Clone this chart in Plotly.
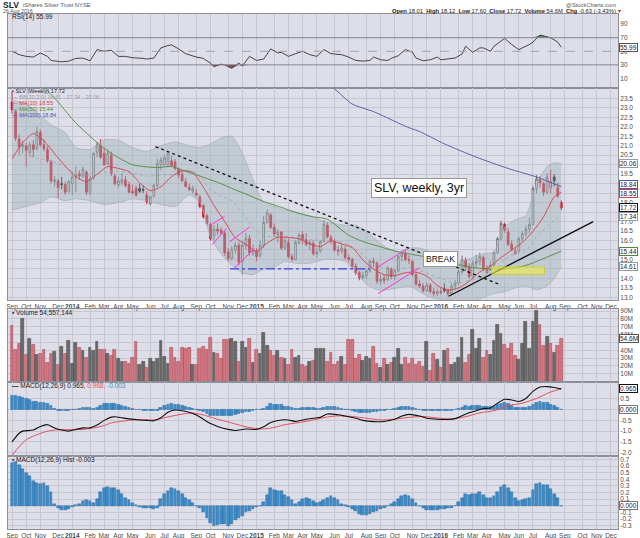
"""SLV weekly 3yr candlestick chart with RSI, volume and MACD panels, StockCharts style."""

import pandas as pd
import plotly.graph_objects as go
from plotly.subplots import make_subplots


START = pd.Timestamp("2013-09-06")
AXIS_START = pd.Timestamp("2013-08-29")
AXIS_END = pd.Timestamp("2016-12-16")

# weekly bars, Sep 6 2013 .. Aug 26 2016
OPEN = [
    23.30, 22.80, 21.35, 20.95, 21.00, 20.65, 21.05, 20.85, 21.70, 21.05,
    20.80, 20.15, 19.10, 19.15, 19.00, 18.95, 18.60, 19.00, 19.35, 19.50,
    19.40, 19.60, 18.55, 19.30, 20.65, 21.00, 20.60, 20.05, 20.50, 19.40,
    18.95, 19.05, 19.20, 18.95, 18.60, 18.75, 18.75, 18.70, 18.40, 17.95,
    18.35, 18.90, 20.00, 20.00, 20.00, 20.20, 20.15, 19.75, 19.50, 19.10,
    18.80, 18.60, 18.50, 18.30, 17.85, 17.30, 16.85, 16.25, 16.60, 16.55,
    16.40, 15.40, 15.05, 15.50, 15.75, 14.90, 15.75, 16.10, 15.35, 15.45,
    15.20, 15.75, 16.95, 17.35, 16.70, 16.30, 16.45, 15.60, 15.90, 15.15,
    15.00, 15.90, 16.30, 16.05, 15.80, 15.85, 15.30, 15.45, 15.95, 16.80,
    16.15, 15.95, 15.50, 15.45, 15.55, 15.10, 15.00, 14.65, 14.30, 14.05,
    14.15, 14.40, 14.90, 14.80, 13.85, 14.00, 13.95, 14.50, 14.10, 14.40,
    15.15, 15.30, 15.00, 14.90, 14.20, 13.70, 13.60, 13.35, 13.65, 13.30,
    13.20, 13.30, 13.45, 13.40, 13.20, 13.60, 13.75, 14.35, 14.95, 14.60,
    14.10, 14.80, 14.90, 15.10, 14.30, 14.45, 14.70, 15.35, 16.10, 16.85,
    16.45, 15.80, 15.30, 15.45, 16.10, 16.35, 16.60, 16.85, 18.75, 19.20,
    19.00, 18.55, 18.80, 19.35, 18.80, 18.01,
]
HIGH = [
    23.85, 22.90, 21.60, 21.25, 21.15, 21.20, 21.30, 22.00, 21.85, 21.35,
    20.95, 20.25, 19.40, 19.25, 19.35, 19.10, 19.20, 19.65, 19.90, 19.70,
    19.90, 19.70, 19.40, 20.65, 21.20, 21.35, 20.90, 20.80, 20.70, 19.55,
    19.35, 19.55, 19.40, 19.10, 18.95, 18.90, 19.00, 18.90, 18.60, 18.35,
    19.00, 20.30, 20.40, 20.50, 20.70, 20.45, 20.30, 19.85, 19.70, 19.30,
    19.00, 18.90, 18.70, 18.40, 17.90, 17.40, 16.95, 16.80, 16.90, 16.70,
    16.50, 15.60, 15.70, 15.90, 15.90, 16.00, 16.40, 16.30, 15.80, 15.60,
    16.00, 17.30, 17.65, 17.45, 16.90, 16.60, 16.50, 16.20, 16.10, 15.30,
    16.00, 16.40, 16.50, 16.40, 16.00, 16.00, 15.60, 16.00, 17.10, 16.95,
    16.30, 16.10, 15.70, 15.80, 15.70, 15.25, 15.10, 14.80, 14.40, 14.35,
    14.50, 15.00, 15.10, 14.90, 14.20, 14.20, 14.65, 14.60, 14.50, 15.25,
    15.40, 15.45, 15.20, 14.95, 14.30, 13.90, 13.75, 13.80, 13.75, 13.50,
    13.45, 13.50, 13.75, 13.45, 13.75, 13.90, 14.45, 15.20, 15.10, 14.80,
    14.95, 15.25, 15.35, 15.20, 14.70, 14.90, 15.45, 16.20, 17.05, 16.95,
    16.65, 16.00, 15.60, 16.20, 16.50, 16.80, 17.20, 18.90, 19.45, 19.40,
    19.10, 19.55, 19.75, 19.50, 19.05, 18.12,
]
LOW = [
    22.70, 21.25, 20.55, 20.60, 19.90, 20.45, 20.40, 20.75, 20.95, 20.70,
    20.10, 19.00, 18.85, 18.25, 18.70, 18.40, 18.50, 18.40, 18.55, 19.20,
    19.30, 18.40, 18.40, 19.20, 20.40, 20.30, 19.95, 19.95, 19.40, 18.90,
    18.80, 18.90, 18.80, 18.50, 18.45, 18.30, 18.50, 18.50, 17.90, 17.85,
    18.25, 18.80, 19.70, 19.90, 19.90, 19.90, 19.70, 19.30, 19.10, 18.80,
    18.60, 18.45, 18.30, 17.70, 17.15, 16.80, 16.00, 16.00, 16.30, 16.30,
    15.20, 14.90, 14.95, 15.30, 14.70, 14.20, 15.50, 15.20, 15.20, 14.90,
    15.10, 15.60, 16.90, 16.60, 16.20, 15.90, 15.50, 15.50, 15.05, 14.90,
    14.95, 15.80, 15.80, 15.70, 15.50, 15.20, 15.10, 15.35, 15.90, 16.10,
    15.80, 15.40, 15.20, 15.30, 15.00, 14.85, 14.50, 14.20, 13.90, 13.95,
    14.00, 14.30, 14.60, 13.70, 13.65, 13.70, 13.85, 13.95, 13.90, 14.30,
    14.90, 14.90, 14.75, 14.10, 13.60, 13.50, 13.25, 13.30, 13.20, 13.05,
    13.05, 13.15, 13.25, 13.05, 13.10, 13.40, 13.65, 14.20, 14.40, 14.00,
    14.05, 14.60, 14.70, 14.40, 14.25, 14.40, 14.60, 15.30, 16.00, 16.40,
    15.70, 15.45, 15.25, 15.40, 15.95, 16.20, 16.40, 16.80, 18.50, 18.80,
    18.35, 18.45, 18.50, 18.85, 18.25, 17.60,
]
CLOSE = [
    22.90, 21.40, 20.95, 21.05, 20.75, 21.05, 20.80, 21.75, 21.05, 20.85,
    20.20, 19.15, 19.20, 18.80, 18.95, 18.55, 19.10, 19.35, 19.45, 19.40,
    19.75, 18.55, 19.25, 20.60, 21.05, 20.40, 20.00, 20.60, 19.55, 19.00,
    19.15, 19.20, 18.90, 18.55, 18.50, 18.40, 18.60, 18.65, 18.05, 18.30,
    18.90, 20.05, 20.25, 20.35, 20.60, 19.95, 19.80, 19.45, 19.15, 18.85,
    18.70, 18.75, 18.40, 17.80, 17.25, 16.90, 16.10, 16.60, 16.50, 16.40,
    15.35, 15.05, 15.55, 15.75, 14.85, 15.75, 16.10, 15.35, 15.50, 15.15,
    15.75, 16.95, 17.45, 16.70, 16.35, 16.45, 15.60, 16.00, 15.15, 15.00,
    15.90, 16.30, 16.05, 15.80, 15.90, 15.30, 15.40, 15.95, 16.85, 16.20,
    16.00, 15.50, 15.45, 15.60, 15.10, 15.00, 14.65, 14.30, 14.05, 14.15,
    14.40, 14.90, 14.85, 13.85, 13.95, 13.90, 14.55, 14.10, 14.40, 15.15,
    15.30, 15.00, 14.95, 14.20, 13.70, 13.60, 13.35, 13.65, 13.30, 13.20,
    13.30, 13.25, 13.35, 13.20, 13.60, 13.75, 14.35, 14.95, 14.60, 14.10,
    14.80, 14.90, 15.15, 14.50, 14.45, 14.70, 15.35, 16.10, 16.90, 16.55,
    15.80, 15.55, 15.45, 16.10, 16.35, 16.60, 16.85, 18.75, 19.25, 19.05,
    18.55, 19.35, 19.10, 19.15, 18.35, 17.72,
]
VOLUME_M = [
    71, 41, 48, 80, 34, 55, 47, 34, 36, 41,
    24, 35, 38, 21, 45, 36, 52, 23, 50, 43,
    39, 31, 43, 39, 51, 41, 41, 35, 33, 41,
    29, 25, 26, 23, 31, 51, 22, 26, 18, 29,
    25, 29, 52, 32, 23, 43, 30, 26, 43, 42,
    43, 21, 21, 42, 44, 41, 56, 37, 36, 29,
    53, 53, 55, 51, 26, 51, 43, 55, 24, 41,
    35, 62, 46, 40, 33, 40, 31, 29, 21, 41,
    31, 33, 21, 19, 26, 27, 42, 42, 42, 26,
    37, 21, 26, 32, 22, 53, 54, 29, 34, 27,
    32, 29, 44, 23, 18, 29, 21, 24, 31, 42,
    22, 31, 23, 29, 21, 26, 19, 51, 14, 36,
    28, 18, 40, 42, 21, 24, 30, 56, 24, 34,
    66, 42, 55, 31, 39, 34, 52, 73, 61, 47,
    42, 48, 33, 28, 48, 77, 42, 77, 90, 72,
    46, 57, 48, 37, 46, 54.6,
]
MACD_HIST = [
    0.65, 0.66, 0.61, 0.55, 0.50, 0.45, 0.38, 0.35, 0.33, 0.34,
    0.30, 0.20, 0.03, -0.03, -0.06, -0.07, -0.05, -0.02, 0.01, 0.03,
    0.07, 0.08, 0.07, 0.04, 0.10, 0.20, 0.27, 0.29, 0.27, 0.27,
    0.23, 0.17, 0.12, 0.08, 0.04, 0.01, -0.02, -0.03, -0.04, -0.04,
    -0.05, -0.03, 0.10, 0.17, 0.22, 0.26, 0.25, 0.22, 0.18, 0.12,
    0.08, 0.04, 0.00, -0.04, -0.10, -0.18, -0.26, -0.30, -0.29, -0.27,
    -0.28, -0.30, -0.28, -0.22, -0.19, -0.15, -0.10, -0.08, -0.05, -0.02,
    -0.01, 0.06, 0.16, 0.26, 0.24, 0.22, 0.22, 0.16, 0.13, 0.08,
    0.03, 0.06, 0.10, 0.11, 0.10, 0.07, 0.04, 0.05, 0.08, 0.12,
    0.15, 0.12, 0.08, 0.03, 0.01, -0.02, -0.05, -0.08, -0.12, -0.14,
    -0.14, -0.12, -0.10, -0.08, -0.05, -0.03, -0.01, 0.02, 0.06, 0.10,
    0.14, 0.16, 0.15, 0.10, 0.04, -0.01, -0.04, -0.06, -0.07, -0.06,
    -0.06, -0.05, -0.05, -0.04, -0.03, 0.00, 0.05, 0.11, 0.17, 0.16,
    0.18, 0.18, 0.20, 0.16, 0.12, 0.12, 0.15, 0.21, 0.29, 0.31,
    0.27, 0.20, 0.11, 0.07, 0.09, 0.10, 0.12, 0.24, 0.33, 0.35,
    0.32, 0.31, 0.25, 0.18, 0.11, -0.003,
]

MACD_WEEK = [0, 2, 3, 6, 8, 10, 12, 14, 16, 18, 20, 22, 24, 26, 28, 29, 31, 33, 36, 38,
             40, 42, 44, 46, 48, 50, 52, 54, 56, 58, 61, 63, 66, 69, 71, 73, 76, 78, 80, 83,
             85, 87, 89, 92, 94, 97, 99, 102, 105, 108, 110, 112, 115, 117, 120, 123, 125,
             127, 129, 131, 133, 135, 137, 139, 141, 143, 145, 147, 149, 151, 153, 155]
MACD_VALUE = [-1.50, -1.10, -1.00, -0.95, -0.78, -0.70, -0.85, -0.95, -1.00, -0.92,
              -0.85, -0.85, -0.72, -0.50, -0.35, -0.33, -0.38, -0.43, -0.48, -0.50,
              -0.52, -0.38, -0.12, -0.02, -0.05, -0.12, -0.25, -0.45, -0.65, -0.78,
              -0.92, -0.97, -0.90, -0.92, -0.80, -0.60, -0.48, -0.48, -0.55, -0.45,
              -0.40, -0.36, -0.20, -0.24, -0.30, -0.40, -0.50, -0.56, -0.55, -0.45,
              -0.30, -0.22, -0.30, -0.40, -0.45, -0.46, -0.42, -0.28, -0.15, -0.05,
              0.05, 0.08, 0.30, 0.48, 0.45, 0.38, 0.52, 0.85, 1.05, 1.07, 1.03, 0.965]
SIGNAL_WEEK = [0, 4, 9, 12, 16, 20, 24, 26, 28, 32, 36, 40, 44, 48, 51, 54, 57, 62, 66, 70,
               73, 77, 81, 85, 89, 92, 96, 100, 104, 108, 112, 116, 120, 124, 128, 132, 136,
               140, 144, 148, 152, 155]
SIGNAL_VALUE = [-2.12, -1.40, -1.05, -0.95, -0.93, -0.92, -0.82, -0.74, -0.62, -0.52,
                -0.46, -0.48, -0.34, -0.21, -0.16, -0.25, -0.40, -0.62, -0.80, -0.90,
                -0.86, -0.70, -0.60, -0.48, -0.34, -0.29, -0.32, -0.40, -0.48, -0.44,
                -0.36, -0.32, -0.39, -0.43, -0.33, -0.15, -0.05, 0.18, 0.30, 0.52,
                0.82, 0.968]
RSI_WEEK = [0, 2, 4, 6, 8, 10, 11, 14, 16, 18, 20, 22, 24, 26, 28, 30, 32, 34, 37, 38,
            40, 42, 44, 45, 47, 49, 52, 54, 56, 57, 59, 60, 62, 64, 65, 67, 69, 71, 73, 75,
            76, 78, 80, 82, 84, 86, 88, 90, 93, 95, 97, 99, 101, 102, 104, 106, 107, 109,
            111, 113, 114, 116, 118, 120, 121, 123, 125, 127, 128, 130, 132, 133, 135,
            136, 139, 141, 143, 146, 147, 149, 151, 152, 154, 155]
RSI_VALUE = [50, 45, 42.5, 41.5, 47.5, 42.5, 36.5, 34.5, 35.5, 39.5,
             40, 36, 52.5, 50, 51.5, 42.5, 42.5, 40.5, 39.5, 38.5,
             40, 55, 58.5, 59.5, 53.5, 46.5, 41.5, 39.5, 32.5, 27.5,
             31, 30, 25, 32.5, 28.5, 42.5, 36.5, 38.5, 53.5, 47.5,
             48.5, 42.5, 46.5, 50, 45, 42.5, 52.5, 46.5, 45, 41.5,
             36.5, 35.5, 36.5, 41.5, 37.5, 36.5, 39.5, 43.5, 52.5, 48.5,
             40, 36, 37.5, 41.5, 37.5, 38.5, 40, 46, 57.5, 48.5,
             55, 55, 50, 57.5, 69, 60, 52.5, 60, 63.5, 74,
             71.5, 70, 63.5, 55.99]
MA10_WEEK = list(range(0, 154, 3)) + [155]
MA10_VALUE = [20.30, 21.16, 21.64, 21.26, 20.59, 19.93, 19.36, 19.11, 19.50, 19.90,
              19.80, 19.64, 19.05, 18.63, 18.83, 19.37, 19.68, 19.59, 18.81, 17.85,
              17.00, 16.15, 15.79, 15.44, 15.86, 16.18, 16.16, 16.09, 15.82, 15.68,
              15.98, 15.82, 15.63, 14.98, 14.50, 14.20, 14.15, 14.30, 14.33, 14.13,
              13.63, 13.39, 13.50, 13.85, 14.34, 14.65, 15.10, 15.50, 15.89, 16.49,
              17.25, 18.30, 18.55]
MA50_WEEK = [0, 6, 10, 13, 18, 22, 25, 28, 34, 41, 45, 49, 53, 59, 62, 66, 70, 76, 81, 85,
             89, 95, 99, 103, 109, 114, 118, 122, 126, 130, 134, 138, 142, 146, 150, 153, 155]
MA50_VALUE = [25.6, 24.6, 23.9, 23.3, 22.2, 21.5, 21.0, 20.6, 20.0, 19.85, 19.9, 19.65,
              19.4, 19.0, 18.75, 18.45, 18.13, 17.75, 17.43, 17.25, 17.12, 16.28, 15.95,
              15.72, 15.40, 15.23, 15.10, 14.95, 14.72, 14.58, 14.50, 14.50, 14.55, 14.75,
              15.05, 15.28, 15.44]
MA200_WEEK = [60, 75, 88, 91, 96, 102, 109, 112, 115, 122, 131, 140, 148, 155]
MA200_VALUE = [27.5, 26.0, 24.4, 24.0, 23.2, 22.8, 22.2, 21.95, 21.75, 21.1, 20.4, 19.8,
               19.35, 18.84]
BB_WEEK = [0, 4, 8, 11, 15, 18, 22, 26, 30, 34, 38, 42, 46, 50, 53, 56, 59, 62, 65, 68,
           71, 74, 77, 80, 84, 88, 91, 94, 97, 100, 103, 106, 109, 112, 115, 118, 121, 124,
           127, 130, 133, 136, 139, 142, 145, 148, 151, 153, 155]
BB_LOWER = [17.6, 17.8, 18.0, 18.3, 18.1, 18.2, 18.1, 17.9, 18.0, 18.2, 18.1, 17.9, 17.8,
            18.4, 18.0, 16.2, 15.3, 14.7, 14.3, 14.2, 14.5, 14.6, 14.9, 14.8, 14.8, 15.0,
            15.0, 14.9, 14.3, 13.7, 13.4, 13.4, 13.5, 13.6, 13.3, 13.0, 12.9, 12.9, 12.7,
            12.8, 13.0, 13.2, 13.3, 13.5, 13.6, 13.4, 13.6, 14.0, 14.61]
BB_MID = [20.5, 20.5, 20.3, 20.2, 19.9, 19.55, 19.45, 19.6, 19.65, 19.55, 19.4, 19.45,
          19.5, 19.7, 19.45, 18.65, 18.35, 18.1, 17.45, 16.7, 16.25, 16.2, 16.25, 16.15,
          16.05, 16.0, 15.95, 15.85, 15.55, 15.1, 14.7, 14.5, 14.45, 14.6, 14.45, 14.2,
          14.0, 13.8, 13.8, 13.95, 14.15, 14.3, 15.0, 15.3, 15.45, 16.2, 16.75, 17.05, 17.34]
BB_UPPER = [23.4, 23.2, 22.6, 22.1, 21.7, 20.9, 20.8, 21.3, 21.3, 20.9, 20.7, 21.0, 21.2,
            21.0, 20.9, 21.1, 21.4, 21.5, 20.6, 19.2, 18.0, 17.8, 17.6, 17.5, 17.3, 17.0,
            16.9, 16.8, 16.8, 16.5, 16.0, 15.6, 15.4, 15.6, 15.6, 15.4, 15.1, 14.7, 14.9,
            15.1, 15.3, 15.4, 16.7, 17.1, 17.3, 19.0, 19.9, 20.1, 20.06]

TICK_TEXT = ["Sep", "Oct", "Nov", "Dec",
             "<b>2014</b>", "Feb", "Mar", "Apr", "May", "Jun", "Jul", "Aug", "Sep", "Oct", "Nov", "Dec",
             "<b>2015</b>", "Feb", "Mar", "Apr", "May", "Jun", "Jul", "Aug", "Sep", "Oct", "Nov", "Dec",
             "<b>2016</b>", "Feb", "Mar", "Apr", "May", "Jun", "Jul", "Aug", "Sep", "Oct", "Nov", "Dec"]
PRICE_TICKS = [13.0, 13.5, 14.0, 14.5, 15.0, 15.5, 16.0, 16.5, 17.0, 17.5, 18.0, 18.5,
               19.0, 19.5, 20.0, 20.5, 21.0, 21.5, 22.0, 22.5, 23.0, 23.5]
VOLUME_TICKS = [10, 20, 30, 40, 50, 60, 70, 80, 90]
HIST_TICKS = [-0.3, -0.2, -0.1, 0.0, 0.1, 0.2, 0.3, 0.4, 0.5, 0.6, 0.7]

# hand-drawn markup on the chart: (week, price) endpoints
DOWN_TREND = [(40.5, 20.95), (138.0, 13.65)]
UP_TREND = [(123.2, 13.06), (164.0, 17.0)]
SUPPORT = [(61.5, 14.5), (101.0, 14.5)]
FLAG_LINES = [
    [(56.5, 16.85), (60.0, 17.29)], [(56.5, 15.79), (60.5, 16.64)],
    [(61.4, 15.93), (67.1, 16.72)], [(62.4, 14.49), (68.5, 15.58)],
    [(103.3, 14.61), (111.7, 15.58)], [(103.3, 13.20), (115.0, 14.56)],
]
ZONE = [(135.3, 14.21), (150.3, 14.61)]
TITLE_NOTE = (114.9, 18.76, "SLV, weekly, 3yr")
BREAK_NOTE = (121.0, 15.02, "BREAK")

FONT = "Liberation Sans, Arial, sans-serif"
INK = "#222222"
AXIS_INK = "#4a4a4a"
PANEL = "#dedee9"
GRID = "#c7c7d4"
BORDER = "#8e8e98"
RED = "#d0192b"
HOLLOW_LINE = "#6a6a6a"
HOLLOW_FILL = "#ececef"
VOL_RED = "#d47580"
VOL_RED_EDGE = "#a84652"
VOL_GREY = "#6b6b6b"
VOL_GREY_EDGE = "#474747"
HIST_BLUE = "#3d8ec8"
HIST_EDGE = "#23679f"
MA10_C = "#d9404c"
MA50_C = "#4f8a3a"
MA200_C = "#5252aa"
BB_FILL = "rgba(160,178,184,0.45)"
BB_EDGE = "#a3afb6"
BB_MID_C = "#9aa3ac"


def week(i):
    return START + pd.Timedelta(days=7 * i)


def wstr(i):
    return week(i).strftime("%Y-%m-%d %H:%M")


def build():
    n = len(CLOSE)
    dates = [week(i) for i in range(n)]
    prev = [OPEN[0]] + CLOSE[:-1]
    down = [CLOSE[i] < prev[i] for i in range(n)]

    fridays = pd.date_range(START, AXIS_END + pd.Timedelta(days=20), freq="7D")
    firsts = pd.Series(fridays).groupby([fridays.year, fridays.month]).first().tolist()
    tick_dates = firsts[:len(TICK_TEXT)]

    fig = make_subplots(rows=5, cols=1, shared_xaxes=True, vertical_spacing=0)

    # ---- RSI
    rsi_x = [week(i) for i in RSI_WEEK]
    fig.add_trace(go.Scatter(x=rsi_x, y=[70] * len(rsi_x), mode="lines", line=dict(width=0),
                             hoverinfo="skip"), row=1, col=1)
    fig.add_trace(go.Scatter(x=rsi_x, y=[max(v, 70) for v in RSI_VALUE], mode="lines",
                             line=dict(width=0), fill="tonexty", fillcolor="#5e8a5e",
                             hoverinfo="skip"), row=1, col=1)
    fig.add_trace(go.Scatter(x=rsi_x, y=[30] * len(rsi_x), mode="lines", line=dict(width=0),
                             hoverinfo="skip"), row=1, col=1)
    fig.add_trace(go.Scatter(x=rsi_x, y=[min(v, 30) for v in RSI_VALUE], mode="lines",
                             line=dict(width=0), fill="tonexty", fillcolor="#8e4a4a",
                             hoverinfo="skip"), row=1, col=1)
    fig.add_trace(go.Scatter(x=rsi_x, y=RSI_VALUE, mode="lines",
                             line=dict(color="#333333", width=0.9)), row=1, col=1)
    for lvl, dash, col in [(70, "solid", "#85858f"), (30, "solid", "#85858f"), (50, "dash", "#a2a2ad")]:
        fig.add_hline(y=lvl, line=dict(color=col, width=1, dash=dash), row=1, col=1)

    # ---- price panel
    bb_x = [week(i) for i in BB_WEEK]
    fig.add_trace(go.Scatter(x=bb_x, y=BB_LOWER, mode="lines", line=dict(color=BB_EDGE, width=0.7,
                             shape="spline", smoothing=0.6), hoverinfo="skip"), row=2, col=1)
    fig.add_trace(go.Scatter(x=bb_x, y=BB_UPPER, mode="lines", line=dict(color=BB_EDGE, width=0.7,
                             shape="spline", smoothing=0.6), fill="tonexty", fillcolor=BB_FILL,
                             hoverinfo="skip"), row=2, col=1)
    fig.add_trace(go.Scatter(x=bb_x, y=BB_MID, mode="lines", line=dict(color=BB_MID_C, width=0.8,
                             dash="dot", shape="spline", smoothing=0.6), hoverinfo="skip"), row=2, col=1)
    for wk, val, col in [(MA10_WEEK, MA10_VALUE, MA10_C), (MA50_WEEK, MA50_VALUE, MA50_C),
                         (MA200_WEEK, MA200_VALUE, MA200_C)]:
        fig.add_trace(go.Scatter(x=[week(i) for i in wk], y=val, mode="lines",
                                 line=dict(color=col, width=0.9, shape="spline", smoothing=0.7),
                                 hoverinfo="skip"), row=2, col=1)

    for is_red, inc_line, inc_fill, dec_line, dec_fill in [
        (False, HOLLOW_LINE, HOLLOW_FILL, "#111111", "#111111"),
        (True, RED, "#f2e4e6", RED, RED),
    ]:
        idx = [i for i in range(n) if down[i] == is_red]
        fig.add_trace(go.Candlestick(
            x=[dates[i] for i in idx],
            open=[OPEN[i] for i in idx], high=[HIGH[i] for i in idx],
            low=[LOW[i] for i in idx], close=[CLOSE[i] for i in idx],
            increasing=dict(line=dict(color=inc_line, width=0.9), fillcolor=inc_fill),
            decreasing=dict(line=dict(color=dec_line, width=0.9), fillcolor=dec_fill),
            whiskerwidth=0, hoverinfo="skip",
        ), row=2, col=1)

    # ---- volume
    fig.add_trace(go.Bar(
        x=dates, y=VOLUME_M, width=7 * 86400000 * 0.78,
        marker=dict(color=[VOL_RED if d else VOL_GREY for d in down],
                    line=dict(color=[VOL_RED_EDGE if d else VOL_GREY_EDGE for d in down], width=0.6)),
        hoverinfo="skip",
    ), row=3, col=1)

    # ---- MACD
    hist_marker = dict(color=HIST_BLUE, line=dict(color=HIST_EDGE, width=0.5))
    fig.add_trace(go.Bar(x=dates, y=MACD_HIST, width=7 * 86400000 * 0.8, marker=hist_marker,
                         hoverinfo="skip"), row=4, col=1)
    fig.add_trace(go.Scatter(x=[week(i) for i in SIGNAL_WEEK], y=SIGNAL_VALUE, mode="lines",
                             line=dict(color="#e2505e", width=1, shape="spline", smoothing=0.7),
                             hoverinfo="skip"), row=4, col=1)
    fig.add_trace(go.Scatter(x=[week(i) for i in MACD_WEEK], y=MACD_VALUE, mode="lines",
                             line=dict(color="#111111", width=1.1, shape="spline", smoothing=0.7),
                             hoverinfo="skip"), row=4, col=1)

    # ---- MACD histogram
    fig.add_trace(go.Bar(x=dates, y=MACD_HIST, width=7 * 86400000 * 0.8, marker=hist_marker,
                         hoverinfo="skip"), row=5, col=1)

    # boxed last values on the right axis (label, value, panel, border colour, nudge)
    boxes = [
        (f"{RSI_VALUE[-1]:.2f}", RSI_VALUE[-1], 1, "#555555", 0),
        (f"{BB_UPPER[-1]:.2f}", BB_UPPER[-1], 2, "#999999", 0),
        (f"{MA200_VALUE[-1]:.2f}", MA200_VALUE[-1], 2, MA200_C, 0.14),
        (f"{MA10_VALUE[-1]:.2f}", MA10_VALUE[-1], 2, MA10_C, -0.06),
        (f"{CLOSE[-1]:.2f}", CLOSE[-1], 2, "#111111", 0),
        (f"{BB_MID[-1]:.2f}", BB_MID[-1], 2, "#999999", -0.05),
        (f"{MA50_VALUE[-1]:.2f}", MA50_VALUE[-1], 2, MA50_C, 0),
        (f"{BB_LOWER[-1]:.2f}", BB_LOWER[-1], 2, "#999999", 0),
        (f"{VOLUME_M[-1]:.1f}M", VOLUME_M[-1], 3, "#555555", 0),
        (f"{MACD_VALUE[-1]:.3f}", MACD_VALUE[-1], 4, "#111111", 0),
        ("0.000", 0, 4, "#777777", 0),
        ("0.000", 0, 5, "#777777", 0),
    ]
    price_boxes = [b[1] + b[4] for b in boxes if b[2] == 2]
    price_text = ["" if any(abs(t - b) < 0.25 for b in price_boxes) else f"{t:.1f}"
                  for t in PRICE_TICKS]
    vol_text = ["" if abs(t - VOLUME_M[-1]) < 5 else f"{t}M" for t in VOLUME_TICKS]

    # ---- axes
    domains = {1: [0.8565, 1.0], 2: [0.4442, 0.8565], 3: [0.2861, 0.4277],
               4: [0.1416, 0.2861], 5: [0.0, 0.1416]}
    for r in range(1, 6):
        fig.update_xaxes(
            row=r, col=1, type="date", range=[AXIS_START, AXIS_END],
            tickmode="array", tickvals=tick_dates, ticktext=TICK_TEXT, tickangle=0,
            showticklabels=r in (2, 5), ticks="", showgrid=True, gridcolor=GRID, gridwidth=1,
            showline=True, mirror=True, linecolor=BORDER, linewidth=1, zeroline=False,
            tickfont=dict(size=6.5, color=AXIS_INK, family=FONT), automargin=False,
            rangeslider=dict(visible=False),
        )
        fig.update_yaxes(row=r, col=1, domain=domains[r], side="right", ticks="",
                         showline=True, mirror=True, linecolor=BORDER, linewidth=1,
                         gridcolor=GRID, gridwidth=1, zeroline=False, automargin=False,
                         tickfont=dict(size=6.5, color=AXIS_INK, family=FONT))

    fig.update_yaxes(row=1, col=1, range=[-4, 105], tickvals=[10, 30, 50, 70, 90], showgrid=False)
    fig.update_yaxes(row=2, col=1, range=[12.85, 24.05], tickvals=PRICE_TICKS, ticktext=price_text)
    fig.update_yaxes(row=3, col=1, range=[0, 93], tickvals=VOLUME_TICKS, ticktext=vol_text)
    fig.update_yaxes(row=4, col=1, range=[-2.16, 1.30], tickvals=[-2.0, -1.5, -1.0, -0.5, 0.0, 0.5],
                     ticktext=["-2.0", "-1.5", "-1.0", "-0.5", "", "0.5"])
    fig.update_yaxes(row=5, col=1, range=[-0.35, 0.75], tickvals=HIST_TICKS,
                     ticktext=["" if v == 0 else f"{v:.1f}" for v in HIST_TICKS])

    # ---- markup on price panel
    def seg(p, q, color, width, dash):
        fig.add_shape(type="line", xref="x2", yref="y2", x0=wstr(p[0]), y0=p[1],
                      x1=wstr(q[0]), y1=q[1], line=dict(color=color, width=width, dash=dash))

    seg(*DOWN_TREND, "#111111", 1.3, "dot")
    seg(*UP_TREND, "#111111", 1.4, "solid")
    seg(*SUPPORT, "#3340e0", 1.3, "dashdot")
    for a, b in FLAG_LINES:
        seg(a, b, "#ff30e0", 1.0, "solid")
    fig.add_shape(type="rect", xref="x2", yref="y2", x0=wstr(ZONE[0][0]), y0=ZONE[0][1],
                  x1=wstr(ZONE[1][0]), y1=ZONE[1][1], fillcolor="rgba(236,236,70,0.6)",
                  line=dict(color="rgba(200,200,40,0.9)", width=0.8))
    for (wk, price, text), size in [(TITLE_NOTE, 12.5), (BREAK_NOTE, 8.5)]:
        fig.add_annotation(x=wstr(wk), y=price, xref="x2", yref="y2", text=text, showarrow=False,
                           font=dict(size=size, color="#111111", family=FONT),
                           bgcolor="white", bordercolor="#999999", borderwidth=1, borderpad=2)

    # ---- panel captions
    def caption(text, y, yref, size=6.5, color=INK):
        fig.add_annotation(x=0.004, xref="paper", y=y, yref=yref, xanchor="left",
                           yanchor="middle", text=text, showarrow=False,
                           font=dict(size=size, color=color, family=FONT))

    caption("RSI(14) 55.99", 0.955, "y domain")
    legend = [
        f"<span style='color:#333'>▪</span> SLV (Weekly) {CLOSE[-1]:.2f}",
        f"<span style='color:#999'>— BB(20,2.0) "
        f"{BB_LOWER[-1]:.2f} - {BB_MID[-1]:.2f} - {BB_UPPER[-1]:.2f}</span>",
        f"<span style='color:{MA10_C}'>— MA(10) {MA10_VALUE[-1]:.2f}</span>",
        f"<span style='color:{MA50_C}'>— MA(50) {MA50_VALUE[-1]:.2f}</span>",
        f"<span style='color:{MA200_C}'>— MA(200) {MA200_VALUE[-1]:.2f}</span>",
    ]
    for k, line in enumerate(legend):
        caption(line, 0.984 - 0.0275 * k, "y2 domain", size=5.6)
    caption("▪ Volume 54,557,144", 0.945, "y3 domain")
    caption(f"<b>—</b> MACD(12,26,9) {MACD_VALUE[-1]:.3f}, "
            f"<span style='color:#e2505e'>{SIGNAL_VALUE[-1]:.3f},</span> "
            f"<span style='color:{HIST_BLUE}'>{MACD_HIST[-1]:.3f}</span>", 0.945, "y4 domain")
    caption(f"▪ MACD(12,26,9) Hist {MACD_HIST[-1]:.3f}", 0.945, "y5 domain")

    yrefs = {1: "y", 2: "y2", 3: "y3", 4: "y4", 5: "y5"}
    for text, val, panel, color, nudge in boxes:
        fig.add_annotation(x=1.0, xref="paper", xanchor="left", xshift=1, y=val + nudge,
                           yref=yrefs[panel], yanchor="middle", text=text, showarrow=False,
                           font=dict(size=6.5, color=INK, family=FONT), bgcolor="white",
                           bordercolor=color, borderwidth=1, borderpad=0)

    # ---- header
    def header(text, x, y, anchor, size, color=INK):
        fig.add_annotation(x=x, xref="paper", y=y, yref="paper", xanchor=anchor,
                           yanchor="middle", text=text, showarrow=False,
                           font=dict(size=size, color=color, family=FONT))

    header("<b>SLV</b>", -0.011, 1.0175, "left", 8.5)
    header("iShares Silver Trust NYSE", 0.021, 1.0175, "left", 5.8, "#555555")
    header("26 Aug 2016", -0.011, 1.005, "left", 5.3, "#555555")
    header("@StockCharts.com", 1.0, 1.0175, "right", 5.8, "#555555")
    header("<b>Open</b> 18.01  <b>High</b> 18.12  <b>Low</b> 17.60  <b>Close</b> 17.72  "
           "<b>Volume</b> 54.6M  <b>Chg</b> -0.63 (-3.43%) <span style='color:#d0192b'>▾</span>",
           1.008, 1.005, "right", 5.8)

    fig.update_layout(
        width=640, height=538,
        margin=dict(l=8, r=22, t=14, b=9),
        paper_bgcolor="white", plot_bgcolor=PANEL,
        showlegend=False, bargap=0, barmode="overlay",
        font=dict(family=FONT, size=7, color=INK),
    )
    fig.write_html("out.html", config={"displayModeBar": False},
                   post_script="document.body.style.margin='0px';")


if __name__ == "__main__":
    build()
